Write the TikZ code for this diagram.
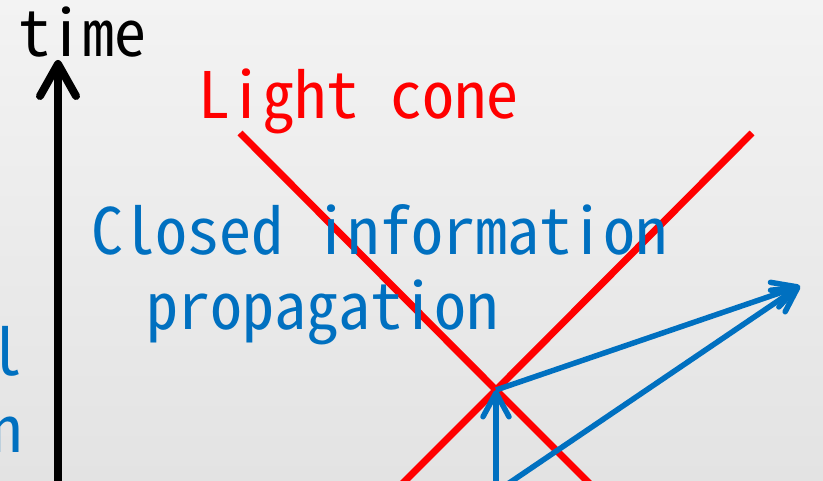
\documentclass[tikz,border=0pt]{standalone}
\usepackage{fontspec}
\usetikzlibrary{arrows.meta}
\newfontfamily\gothic[RawFeature=+hwid]{Noto Sans CJK JP}
\definecolor{infoblue}{HTML}{0070C0}
\definecolor{bgtop}{HTML}{F3F3F3}
\definecolor{bgbottom}{HTML}{E3E3E3}
\tikzset{
  label text/.style={inner sep=0pt, anchor=base west, font=\gothic\fontsize{64}{64}\selectfont},
  cone line/.style={red, line width=7pt},
  info arrow/.style={infoblue, line width=5.5pt, -{Straight Barb[length=24pt,width=26pt,round]}},
}
\begin{document}
\begin{tikzpicture}[x=1pt,y=-1pt]
	% Hintergrund
	\shade [top color=bgtop, bottom color=bgbottom] (0,0) rectangle (823,481);
	\useasboundingbox (0,0) rectangle (823,481);
	\clip (0,0) rectangle (823,481);
	% Zeitachse
	\coordinate (axisbottom) at (58,495);
	\coordinate (axistop) at (58,60);
	\draw [line width=8pt, -{Straight Barb[length=32pt,width=36pt,round]}] (axisbottom) -- (axistop);
	\node [label text] (timelabel) at (18,57) {time};
	% Lichtkegel
	\coordinate (vertex) at (496,390);
	\coordinate (coneleft) at (240,133);
	\coordinate (coneright) at (752,133);
	\draw [cone line] (coneleft) -- (vertex) -- ++(110,110);
	\draw [cone line] (coneright) -- (vertex) -- ++(-110,110);
	\node [label text, red] (conelabel) at (198,119) {Light cone};
	% Informationsfluss
	\coordinate (infostart) at (496,500);
	\coordinate (infotip) at (800,286);
	\coordinate (infoend) at (490,496);
	\draw [info arrow] (infostart) -- (vertex);
	\draw [info arrow] (vertex) -- (infotip);
	\draw [info arrow, {Straight Barb[length=24pt,width=26pt,round]}-] (infotip) -- (infoend);
	\node [label text, infoblue] (closedlabel) at (91,255) {Closed information};
	\node [label text, infoblue] (proplabel) at (146,330) {propagation};
	% abgeschnittener Text links
	\node [label text, infoblue, anchor=base east] (leftlabela) at (23,376) {l};
	\node [label text, infoblue, anchor=base east] (leftlabelb) at (23,452) {n};
\end{tikzpicture}
\end{document}
